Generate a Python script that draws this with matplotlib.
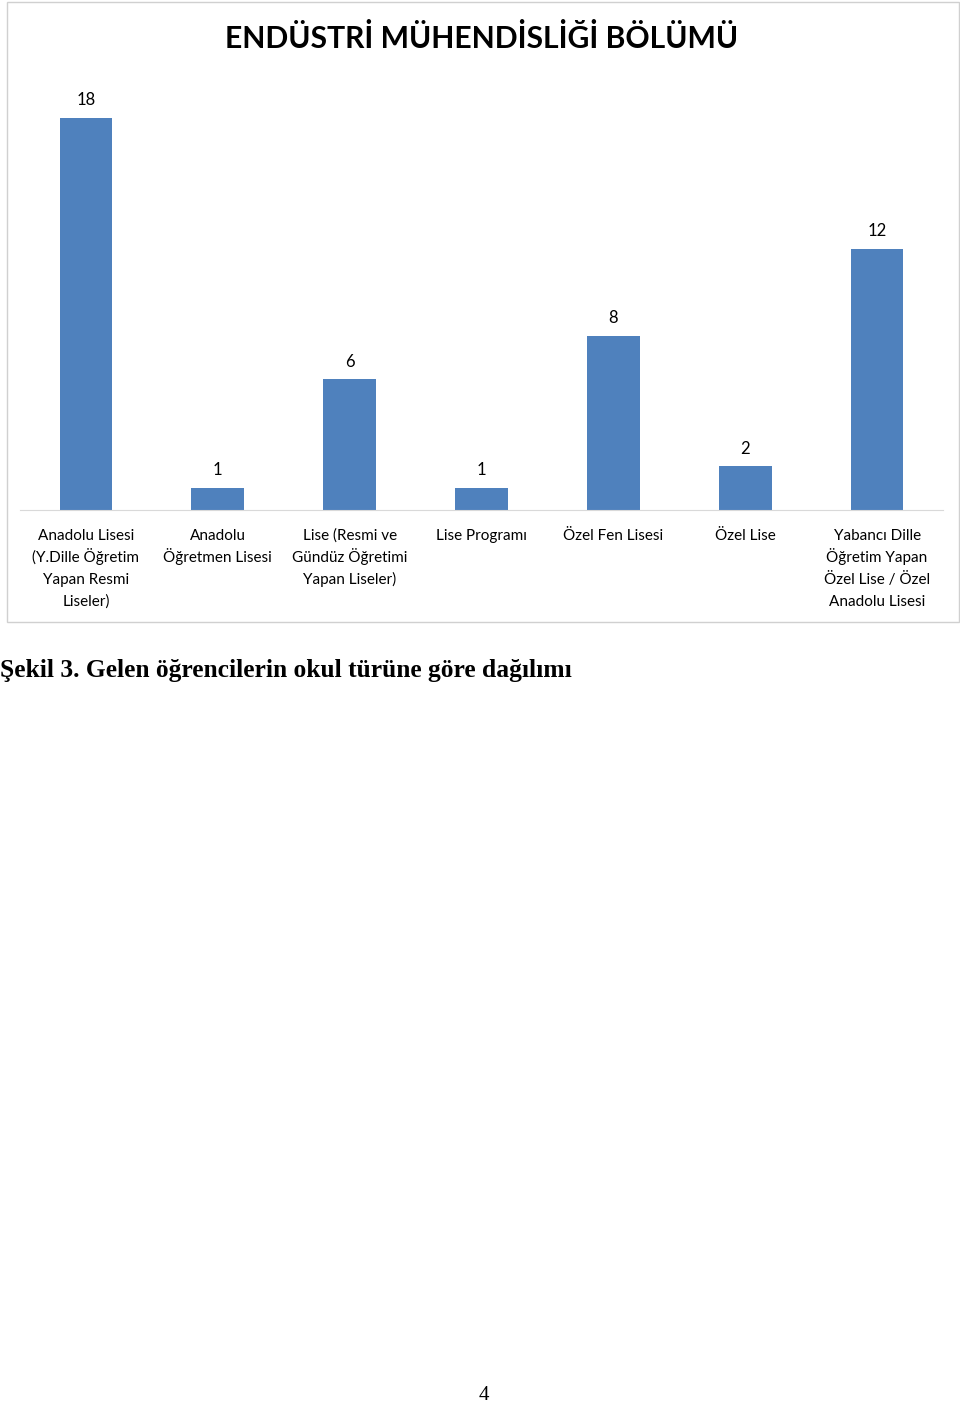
import matplotlib
matplotlib.use("Agg")
import matplotlib.pyplot as plt
from matplotlib.patches import Rectangle
from matplotlib.transforms import blended_transform_factory

categories = [
    "Anadolu Lisesi\n(Y.Dille Öğretim\nYapan Resmi\nLiseler)",
    "Anadolu\nÖğretmen Lisesi",
    "Lise (Resmi ve\nGündüz Öğretimi\nYapan Liseler)",
    "Lise Programı",
    "Özel Fen Lisesi",
    "Özel Lise",
    "Yabancı Dille\nÖğretim Yapan\nÖzel Lise / Özel\nAnadolu Lisesi",
]
values = [18, 1, 6, 1, 8, 2, 12]
title = "ENDÜSTRİ MÜHENDİSLİĞİ BÖLÜMÜ"
caption = "Şekil 3. Gelen öğrencilerin okul türüne göre dağılımı"
page_no = "4"

W, H = 960, 1407
fig = plt.figure(figsize=(W / 100, H / 100), dpi=100)

# chart frame
fig.patches.append(Rectangle((7 / W, 1 - 622 / H), 952 / W, 620 / H,
                             transform=fig.transFigure, fill=False,
                             edgecolor="#D0D0D0", linewidth=1))

ax = fig.add_axes([20 / W, 1 - 510 / H, 923 / W, 450 / H])
x = range(len(values))
bars = ax.bar(x, values, width=0.40, color="#4F81BD")
ax.set_xlim(-0.5, len(values) - 0.5)
ax.set_ylim(0, 450 / 21.78)
for s in ["top", "right", "left"]:
    ax.spines[s].set_visible(False)
ax.spines["bottom"].set_color("#D9D9D9")
ax.set_yticks([])
ax.set_xticks([])

# category labels, one line at a time so the spacing stays even
tr = blended_transform_factory(ax.transData, fig.transFigure)
for i, lab in zip(x, categories):
    for k, line in enumerate(lab.split("\n")):
        ax.text(i, 1 - (540 + 22 * k) / H, line, transform=tr,
                ha="center", va="baseline", fontsize=11, family="Lato")

for b, v in zip(bars, values):
    ax.annotate(str(v), (b.get_x() + b.get_width() / 2, v), xytext=(0, 7),
                textcoords="offset points", ha="center", va="bottom",
                fontsize=12, family="Lato")

fig.text(482 / W, 1 - 38 / H, title, ha="center", va="center",
         fontsize=21.7, fontweight="bold", family="Lato")
fig.text(0, 1 - 670 / H, caption, ha="left", va="center",
         fontsize=18.4, fontweight="bold", family="Liberation Serif")
fig.text(484 / W, 1 - 1395 / H, page_no, ha="center", va="center",
         fontsize=15, family="Liberation Serif")

fig.savefig("out.png", dpi=100)
